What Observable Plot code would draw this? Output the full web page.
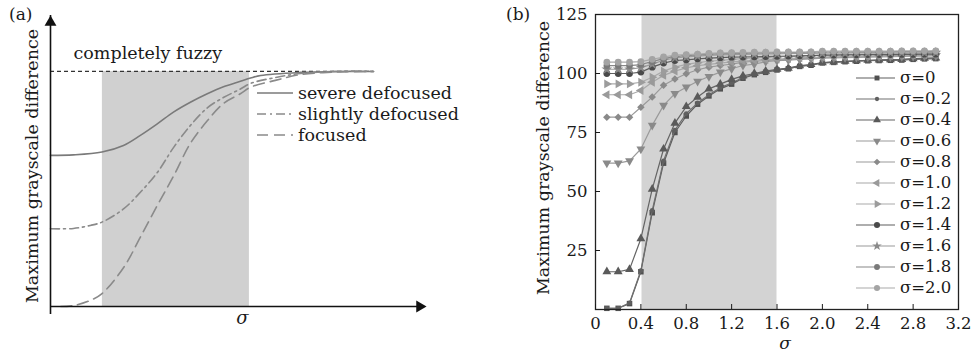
<!DOCTYPE html>
<html><head><meta charset="utf-8">
<script src="https://cdn.jsdelivr.net/npm/d3@7"></script>
<script src="https://cdn.jsdelivr.net/npm/@observablehq/plot@0.6"></script>
<style>
body{margin:0;background:#fff;}
#wrap{position:relative;width:975px;height:359px;overflow:hidden;font-family:"DejaVu Serif",serif;color:#1a1a1a;}
.panel{position:absolute;top:0;}
.tag{position:absolute;font-size:17px;line-height:20px;}
</style></head><body><div id="wrap"></div>
<script>
// ---------- Panel (a): schematic curves ----------
const severeSigma   = [0,0.61,1.37,1.94,2.39,2.84,3.27,3.72,4.17,4.6,5.05,5.32,5.59,6.65,7.53,8.59];
const severeG       = [0.643,0.645,0.657,0.685,0.728,0.777,0.827,0.869,0.905,0.935,0.958,0.972,0.983,0.996,1,1];
const slightlySigma = [0,0.61,1.06,1.37,1.95,2.39,2.84,3.28,3.72,4.17,4.61,5.05,5.32,5.98,6.65,7.71,8.59];
const slightlyG     = [0.331,0.332,0.345,0.359,0.416,0.486,0.570,0.678,0.770,0.845,0.89,0.925,0.949,0.974,0.991,1,1];
const focusedSigma  = [0.27,0.62,1.06,1.37,1.95,2.39,2.84,3.28,3.72,4.17,4.61,5.05,5.32,5.98,6.65,7.71,8.59];
const focusedG      = [0,0.004,0.026,0.055,0.167,0.295,0.43,0.557,0.694,0.79,0.865,0.905,0.933,0.962,0.987,0.998,1];
const fuzzyLevel = 1;
const fuzzyEnd = 8.59;
const shadeA = [1.38, 5.29];
const legendA = ["severe defocused", "slightly defocused", "focused"];

// ---------- Panel (b): measured curves ----------
const sigmaAxis = [0.1,0.2,0.3,0.4,0.5,0.6,0.7,0.8,0.9,1.0,1.1,1.2,1.3,1.4,1.5,1.6,1.7,1.8,1.9,2.0,2.1,2.2,2.3,2.4,2.5,2.6,2.7,2.8,2.9,3.0];
const seriesNames = ["σ=0","σ=0.2","σ=0.4","σ=0.6","σ=0.8","σ=1.0","σ=1.2","σ=1.4","σ=1.6","σ=1.8","σ=2.0"];
const s00 = [0.5,0.5,2.5,16,41,62,75,82,87,90.5,93.5,95.5,98,99.5,100.5,101.5,102,103,103.5,104.5,104.7,105,105.2,105.4,105.5,105.6,105.7,106,106.2,106.3];
const s02 = [0.5,0.5,2.8,16.5,42,63,76,83,87.5,91,94,96,98.3,99.7,100.7,101.6,102.2,103.1,103.7,104.5,104.8,105.1,105.3,105.5,105.6,105.8,105.9,106.1,106.3,106.4];
const s04 = [16,16,17,30,51,68,79,86,90,93.5,95.5,97.5,99,100,101,101.8,102.3,103.3,103.8,104.6,104.9,105.2,105.4,105.6,105.8,105.9,106,106.3,106.5,106.6];
const s06 = [62,62,63,68,78,86.5,91.5,94.2,96.7,98.7,100.6,102,103.4,104,105,105.4,105.7,106,106.2,106.5,106.6,106.7,106.8,106.9,107,107.1,107.2,107.3,107.4,107.5];
const s08 = [81.5,81.5,81.5,85.7,90,95,97.7,99.9,101.6,102.7,103.4,104,104.8,105.2,105.5,105.8,106,106.3,106.5,106.8,106.9,107,107.1,107.2,107.3,107.4,107.5,107.6,107.7,107.8];
const s10 = [91,91,91,92.8,96.3,99.2,101,102.4,103.3,103.9,104.4,104.9,105.3,105.6,105.9,106.1,106.3,106.6,106.8,107,107.1,107.2,107.3,107.4,107.5,107.6,107.7,107.8,107.9,108];
const s12 = [95.6,95.6,95.6,96.3,98.4,101,102.7,103.9,104.6,105.2,105.6,106,106.3,106.6,106.8,107,107.2,107.4,107.6,107.8,107.9,108,108.1,108.2,108.3,108.3,108.4,108.4,108.5,108.5];
const s14 = [100,100,100,100.6,102.7,104.4,105.5,105.8,106.2,106.5,106.7,106.9,107,107.1,107.2,107.3,107.4,107.5,107.6,107.8,107.8,107.9,107.9,108,108,108,108.1,108.1,108.2,108.2];
const s16 = [101.8,101.8,101.8,102.5,104,105.6,106.6,107,107.4,107.7,107.9,108,108.1,108.2,108.3,108.3,108.4,108.4,108.5,108.6,108.6,108.6,108.7,108.7,108.7,108.8,108.8,108.8,108.8,108.9];
const s18 = [103.3,103.3,103.3,103.8,105,106.3,107.2,107.6,107.9,108.2,108.4,108.5,108.6,108.7,108.8,108.8,108.9,108.9,109,109.1,109.1,109.1,109.2,109.2,109.2,109.3,109.3,109.3,109.3,109.4];
const s20 = [104.8,104.8,104.8,105,106,107,107.8,108,108.2,108.5,108.7,108.8,108.9,109,109,109.1,109.1,109.1,109.2,109.5,109.5,109.5,109.5,109.5,109.5,109.5,109.6,109.6,109.6,109.6];
const seriesValues = [s00,s02,s04,s06,s08,s10,s12,s14,s16,s18,s20];
const shadeB = [0.41, 1.6];
const xTicksB = [0,0.4,0.8,1.2,1.6,2.0,2.4,2.8,3.2];
const yTicksB = [25,50,75,100,125];

// ---------- styles ----------
const symbolsB = ["square","circle","triangle","triangle","square","triangle","triangle","circle","star","circle","circle"];
const rotateB  = [0,0,0,180,45,-90,90,0,0,0,0];
const sizeB    = [3.1,2.4,3.3,3.3,3.0,3.3,3.3,3.4,3.4,3.3,3.4];
const lineColB = ["#5e5e5e","#707070","#646464","#9a9a9a","#999","#a8a8a8","#aaa","#5e5e5e","#9a9a9a","#888","#aaa"];
const dotColB  = ["#505050","#606060","#5a5a5a","#8a8a8a","#8a8a8a","#9a9a9a","#9c9c9c","#4a4a4a","#8a8a8a","#7a7a7a","#a4a4a4"];
const styleA = [
  {stroke:"#7a7a7a", dash:null},
  {stroke:"#8a8a8a", dash:"9,4,2,4"},
  {stroke:"#8a8a8a", dash:"11,6"}
];

const wrap = document.getElementById("wrap");
const FONT = "DejaVu Serif";

// ---------- build panel (a) ----------
const curvesA = [
  severeSigma.map((s,i)=>({s, g: severeG[i]})),
  slightlySigma.map((s,i)=>({s, g: slightlyG[i]})),
  focusedSigma.map((s,i)=>({s, g: focusedG[i]}))
];
const yTopA = 1.238, xEndA = 10;
const plotA = Plot.plot({
  width: 490, height: 359,
  marginLeft: 50, marginRight: 64, marginTop: 15, marginBottom: 53,
  x: {domain: [0, xEndA], axis: null},
  y: {domain: [0, yTopA], axis: null},
  style: {fontFamily: FONT, fontSize: "17.5px", color: "#1a1a1a", background: "transparent"},
  marks: [
    Plot.rect([shadeA], {x1: d=>d[0], x2: d=>d[1], y1: 0, y2: fuzzyLevel, fill: "#d0d0d0"}),
    Plot.ruleY([fuzzyLevel], {x1: 0, x2: fuzzyEnd, stroke: "#333", strokeWidth: 1.3, strokeDasharray: "4,3"}),
    ...curvesA.map((c,i)=> Plot.line(c, {x:"s", y:"g", curve:"catmull-rom", stroke: styleA[i].stroke, strokeWidth: 1.6, strokeDasharray: styleA[i].dash})),
    Plot.ruleX([0], {y1: 0, y2: yTopA, stroke: "#111", strokeWidth: 1.6, insetTop: 8}),
    Plot.ruleY([0], {x1: 0, x2: xEndA, stroke: "#111", strokeWidth: 1.6, insetRight: 8}),
    Plot.dot([{x:0, y:yTopA}], {x:"x", y:"y", symbol:"triangle", r:4.4, fill:"#111", dy: 6.8}),
    Plot.dot([{x:xEndA, y:0}], {x:"x", y:"y", symbol:"triangle", r:4.4, fill:"#111", rotate: 90, dx: -6.8}),
    Plot.text(["completely fuzzy"], {text: d=>d, frameAnchor:"top-left", dx: 23, dy: 38, textAnchor:"start", lineAnchor:"middle", fontSize: 17.5}),
    Plot.text(["Maximum grayscale difference"], {text: d=>d, frameAnchor:"left", textAnchor:"middle", rotate:-90, dx:-18, dy: 5, fontSize: 17.5}),
    Plot.text(["σ"], {text: d=>d, frameAnchor:"bottom", dy: 17, dx: 4, fontStyle:"italic", fontSize: 18})
  ]
});
// legend (a)
{
  const g = d3.select(plotA).append("g").attr("font-family", FONT).attr("font-size", 17.5).attr("text-anchor","start");
  legendA.forEach((name,i)=>{
    const y = 93 + 21*i;
    g.append("line").attr("x1",257).attr("x2",293).attr("y1",y).attr("y2",y)
      .attr("stroke", styleA[i].stroke).attr("stroke-width",1.6)
      .attr("stroke-dasharray", styleA[i].dash);
    g.append("text").attr("x",298).attr("y",y).attr("dy","0.32em").attr("text-anchor","start").attr("fill","#1a1a1a").text(name);
  });
}
const divA = document.createElement("div"); divA.className="panel"; divA.style.left="0px";
divA.appendChild(plotA); wrap.appendChild(divA);

// ---------- build panel (b) ----------
const rowsB = [];
seriesValues.forEach((vals,i)=> vals.forEach((v,j)=> rowsB.push({k:i, x: sigmaAxis[j], y: v})));
const seriesMarks = [];
seriesNames.forEach((name,i)=>{
  const d = rowsB.filter(r=>r.k===i);
  seriesMarks.push(Plot.line(d, {x:"x", y:"y", stroke: lineColB[i], strokeWidth: 1.2}));
  seriesMarks.push(Plot.dot(d, {x:"x", y:"y", symbol: symbolsB[i], r: sizeB[i], fill: dotColB[i], rotate: rotateB[i]}));
});
const plotB = Plot.plot({
  width: 485, height: 359,
  marginLeft: 105, marginRight: 17, marginTop: 14, marginBottom: 50,
  x: {domain: [0, 3.2]},
  y: {domain: [0, 125]},
  style: {fontFamily: FONT, fontSize: "16px", color: "#1a1a1a", background: "transparent"},
  marks: [
    Plot.rect([shadeB], {x1: d=>d[0], x2: d=>d[1], y1: 0, y2: 125, fill: "#d3d3d3"}),
    ...seriesMarks,
    Plot.frame({stroke:"#222", strokeWidth: 1.3}),
    Plot.axisX({ticks: xTicksB, tickFormat: d => d === 0 ? "0" : d.toFixed(1), tickSize: -5, tickPadding: 13, label: null, fontSize: 16.5}),
    Plot.axisY({ticks: yTicksB, tickSize: -5, tickPadding: 13, label: null, fontSize: 16.5}),
    Plot.text(["Maximum grayscale difference"], {text: d=>d, frameAnchor:"left", textAnchor:"middle", rotate:-90, dx:-52, dy:-4, fontSize: 17.5}),
    Plot.text(["σ"], {text: d=>d, frameAnchor:"bottom", dy: 39, dx: 8, fontStyle:"italic", fontSize: 17})
  ]
});
// legend (b)
{
  const g = d3.select(plotB).append("g").attr("font-family", FONT).attr("font-size", 16.5).attr("text-anchor","start");
  const symMap = {square: d3.symbolSquare, circle: d3.symbolCircle, triangle: d3.symbolTriangle, star: d3.symbolStar};
  seriesNames.forEach((name,i)=>{
    const y = 78 + 21*i;
    g.append("line").attr("x1",366).attr("x2",405).attr("y1",y).attr("y2",y)
      .attr("stroke", lineColB[i]).attr("stroke-width",1.2);
    g.append("path").attr("d", d3.symbol(symMap[symbolsB[i]], Math.PI*sizeB[i]*sizeB[i]*0.8)())
      .attr("transform", `translate(387,${y}) rotate(${rotateB[i]})`).attr("fill", dotColB[i]);
    g.append("text").attr("x",410).attr("y",y).attr("dy","0.32em").attr("text-anchor","start").attr("fill","#1a1a1a").text(name);
  });
}
const divB = document.createElement("div"); divB.className="panel"; divB.style.left="490px";
divB.appendChild(plotB); wrap.appendChild(divB);

// panel tags
[["(a)", 9], ["(b)", 506]].forEach(([t,x])=>{
  const s = document.createElement("div"); s.className="tag"; s.style.left=x+"px"; s.style.top="4px"; s.textContent=t; wrap.appendChild(s);
});
</script>
</body></html>
